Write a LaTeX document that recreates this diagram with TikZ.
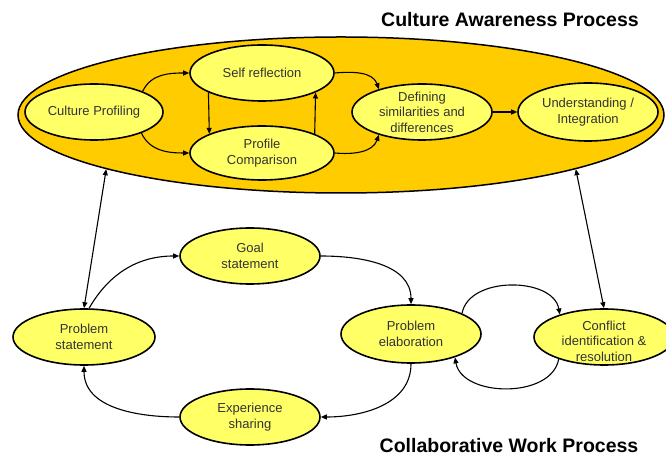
\documentclass[tikz,border=0pt]{standalone}
\usepackage{fontspec}
\setmainfont{Liberation Sans}
\usetikzlibrary{shapes.geometric,arrows.meta}

\definecolor{outerfill}{HTML}{FFCC00}
\definecolor{stepfill}{HTML}{FFFF66}

\tikzset{
  procbox/.style 2 args={ellipse, draw=black, line width=1.6pt, fill=stepfill,
    inner sep=0pt, minimum width=#1pt, minimum height=#2pt},
  txt/.style={align=center, text=black!80, inner sep=0pt,
    font=\fontsize{13}{15.5}\selectfont},
  conn/.style={draw=black, line width=1.1pt,
    -{Triangle[length=6pt,width=5pt]}},
  bconn/.style={draw=black, line width=1.1pt,
    {Triangle[length=6pt,width=5pt]}-{Triangle[length=6pt,width=5pt]}},
  heading/.style={font=\fontsize{19.5}{22}\selectfont\bfseries, anchor=base, inner sep=0pt}
}

\begin{document}
\begin{tikzpicture}[x=1pt,y=1pt]
\useasboundingbox (0,0) rectangle (666,457);

% outer process region
\node[ellipse, draw=black, line width=1.5pt, fill=outerfill, inner sep=0pt,
      minimum width=646pt, minimum height=156pt] (cap) at (341,342) {};

\node[heading] (captitle) at (510,430) {Culture Awareness Process};
\node[heading] (cwtitle) at (509,4) {Collaborative Work Process};

% culture awareness steps
\node[procbox={138}{56}, label={[txt]center:Culture Profiling}] (cp) at (94,345) {};
\node[procbox={144}{56}, label={[txt]center:Self reflection}] (sr) at (262,384) {};
\node[procbox={144}{54}, label={[txt]center:Profile\\Comparison}] (pc) at (262,304) {};
\node[procbox={140}{56}, label={[txt]center:Defining\\similarities and\\differences}] (ds) at (422,345) {};
\node[procbox={140}{58}, label={[txt]center:Understanding /\\Integration}] (ui) at (588,345) {};

% collaborative work steps
\node[procbox={140}{56}, label={[txt]center:Goal\\statement}] (gs) at (250,201) {};
\node[procbox={142}{56}, label={[txt]center:Problem\\statement}] (ps) at (84,120) {};
\node[procbox={140}{58}, label={[txt]center:Problem\\elaboration}] (pe) at (411,123) {};
\node[procbox={140}{56}, label={[txt,yshift=-4pt]center:Conflict\\identification \&\\resolution}] (cr) at (604,120) {};
\node[procbox={140}{56}, label={[txt]center:Experience\\sharing}] (es) at (250,40) {};

% culture awareness flow
\draw[conn] (cp.23) to[out=65,in=180] (sr.west);
\draw[conn] (cp.-24) to[out=-65,in=180] (pc.west);
\draw[conn] (sr.200) -- (pc.160);
\draw[conn] (pc.20) -- (sr.-20);
\draw[conn] (sr.east) to[out=5,in=110] (ds.152);
\draw[conn] (pc.east) to[out=-5,in=-110] (ds.-152);
\draw[conn] (ds.east) -- (ui.west);

% links between the two processes
\draw[bconn] (cap.193.6) -- (ps.north);
\draw[bconn] (cap.-13.3) -- (cr.north);

% collaborative work cycle
\draw[conn] (ps.80) to[out=60,in=180] (gs.west);
\draw[conn] (gs.east) to[out=0,in=90] (pe.north);
\draw[conn] (pe.south) to[out=-90,in=0] (es.east);
\draw[conn] (es.west) to[out=180,in=-90] (ps.south);
\draw[conn] (pe.22) to[out=80,in=100] (cr.153);
\draw[conn] (cr.206) to[out=-100,in=-80] (pe.-28);
\end{tikzpicture}
\end{document}
